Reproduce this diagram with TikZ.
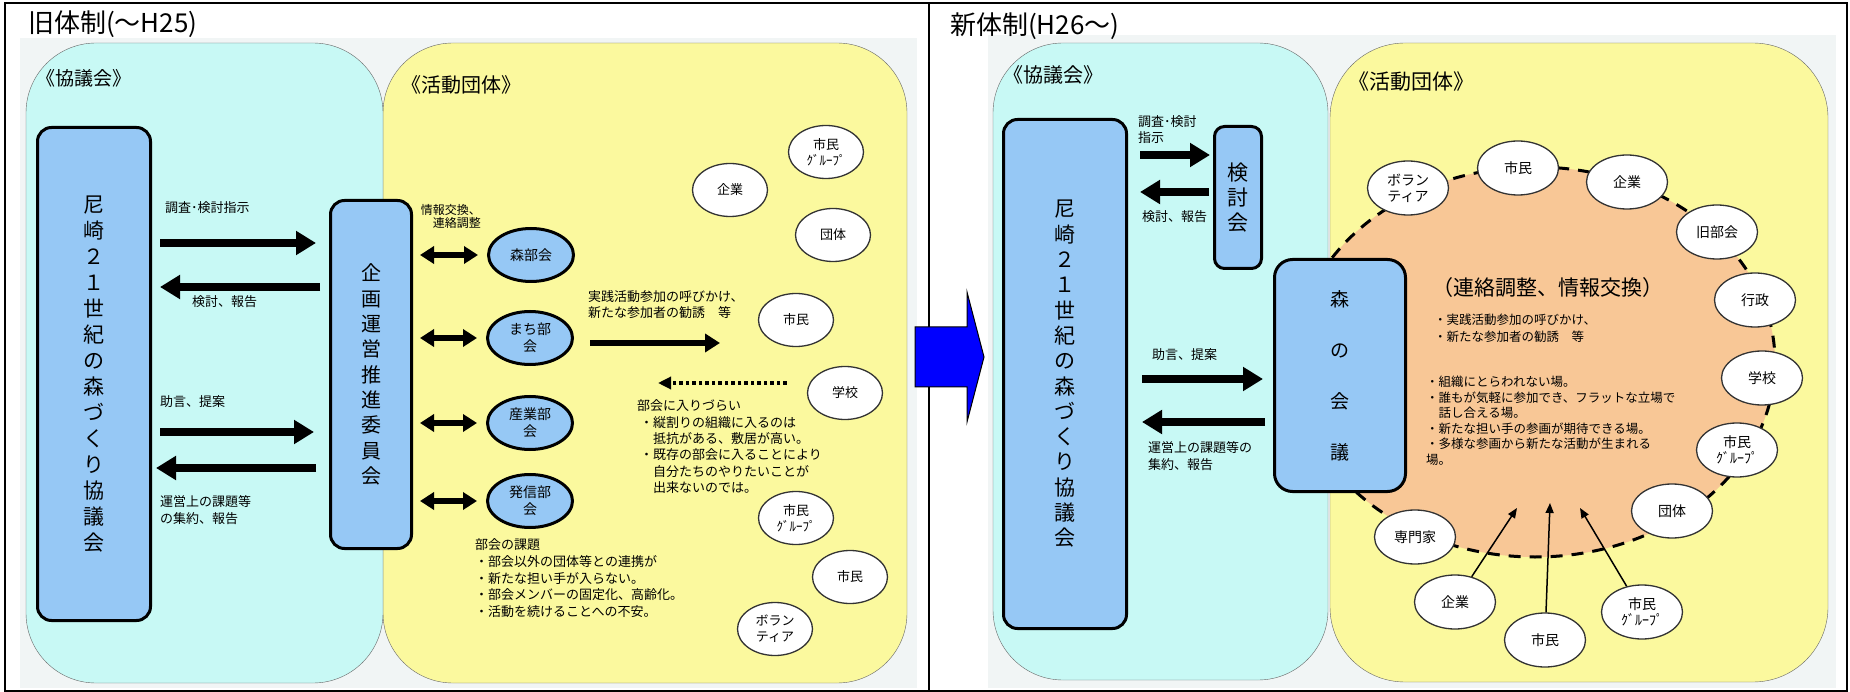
\documentclass[tikz,border=0pt]{standalone}
\usepackage{fontspec}
\setmainfont{Noto Sans CJK JP}
\usetikzlibrary{arrows.meta,shapes.geometric}
\definecolor{kyogiiro}{RGB}{200,249,245}
\definecolor{katsudoiro}{RGB}{251,249,158}
\definecolor{aoiro}{RGB}{150,200,245}
\definecolor{hirobairo}{RGB}{248,199,150}
\definecolor{haikeiiro}{RGB}{241,245,245}
\tikzset{
  aobako/.style={draw, line width=3pt, fill=aoiro, rounded corners=14pt, inner sep=0pt, align=center},
  aomaru/.style={ellipse, draw, line width=3pt, fill=aoiro, minimum width=85, minimum height=53, inner sep=0pt, align=center, font=\fontsize{14}{17}\selectfont},
  shiromaru/.style={ellipse, draw=black!80, line width=1.3pt, fill=white, minimum width=75, minimum height=53, inner sep=0pt, align=center, font=\fontsize{13}{16}\selectfont},
  shiromaruR/.style={shiromaru, minimum width=81, minimum height=54, font=\fontsize{14}{16}\selectfont},
  moji/.style={inner sep=0pt, align=left, font=\fontsize{13}{16.5}\selectfont},
  kakko/.style={anchor=west, inner sep=0pt},
  futoya/.style={line width=8pt, -{Triangle[length=20pt,width=23pt]}},
  ryoya/.style={line width=5.5pt, {Triangle[length=14pt,width=17pt]}-{Triangle[length=14pt,width=17pt]}},
  nakaya/.style={line width=6.5pt, -{Triangle[length=15pt,width=18pt]}},
  tenya/.style={line width=3.5pt, dash pattern=on 3.5pt off 3pt, -{Triangle[length=13pt,width=12pt]}},
  hosoya/.style={line width=1.5pt, -{Triangle[length=10pt,width=8pt]}}
}
\begin{document}
\begin{tikzpicture}[x=1pt,y=-1pt]
\useasboundingbox (0,0) rectangle (1850,692);
\fill[haikeiiro] (20,38) rectangle (917,688);
\fill[haikeiiro] (988,35) rectangle (1836,688);
\draw[line width=2pt] (5,3) rectangle (1847,691);
\draw[line width=2pt] (929,3) -- (929,691);
\node[anchor=base west, inner sep=0pt, font=\fontsize{26}{30}\selectfont] (midashiL) at (28,33) {旧体制(～H25)};
\node[anchor=base west, inner sep=0pt, font=\fontsize{26}{30}\selectfont] (midashiR) at (950,35) {新体制(H26～)};

\draw[black!60, fill=katsudoiro, rounded corners=70pt] (383,43) rectangle (907,683);
\draw[black!60, fill=kyogiiro, rounded corners=70pt] (26,43) rectangle (383,683);
\node[kakko, font=\fontsize{19}{20}\selectfont] (kyogiL) at (36,78) {《協議会》};
\node[kakko, font=\fontsize{20}{22}\selectfont] (katsudoL) at (401,85) {《活動団体》};

\node[aobako, minimum width=113, minimum height=493, font=\fontsize{21}{26}\selectfont] (kyoL) at (94,374) {尼\\崎\\２\\１\\世\\紀\\の\\森\\づ\\く\\り\\協\\議\\会};
\node[aobako, minimum width=81, minimum height=348, font=\fontsize{20}{25.3}\selectfont] (kikaku) at (371,374.5) {企\\画\\運\\営\\推\\進\\委\\員\\会};

\node[moji, anchor=west] (shijiL) at (165,208) {調査･検討指示};
\node[moji, anchor=west] (hokokuL) at (192,302) {検討、報告};
\node[moji, anchor=west] (teianL) at (160,402) {助言、提案};
\node[moji, anchor=north west] (shuyakuL) at (160,495.5) {運営上の課題等\\の集約、報告};
\draw[futoya, shorten <=8pt, shorten >=13pt] (kyoL.east |- 0,243) -- (kikaku.west |- 0,243);
\draw[futoya, shorten <=9pt, shorten >=8pt] (kikaku.west |- 0,287) -- (kyoL.east |- 0,287);
\draw[futoya, shorten <=8pt, shorten >=15pt] (kyoL.east |- 0,432) -- (kikaku.west |- 0,432);
\draw[futoya, shorten <=13pt, shorten >=4pt] (kikaku.west |- 0,468) -- (kyoL.east |- 0,468);

\node[aomaru] (moriB) at (531,255) {森部会};
\node[aomaru] (machiB) at (530,338) {まち部\\会};
\node[aomaru] (sangyoB) at (530,423) {産業部\\会};
\node[aomaru] (hasshinB) at (530,501) {発信部\\会};
\node[moji, anchor=north east, align=right, font=\fontsize{12}{13.3}\selectfont] (koukan) at (481,204) {情報交換、\\連絡調整};
\foreach \b in {moriB,machiB,sangyoB,hasshinB}
  \draw[ryoya, shorten <=7pt, shorten >=9pt] (kikaku.east |- \b) -- (\b.west);

\node[shiromaru] (kigyoL) at (730,190) {企業};
\node[shiromaru] (guruL1) at (826,152) {市民\\ｸﾞﾙｰﾌﾟ};
\node[shiromaru] (dantaiL) at (833,235) {団体};
\node[shiromaru] (shiminL1) at (796,320) {市民};
\node[shiromaru] (gakkoL) at (845,393) {学校};
\node[shiromaru] (guruL2) at (796,518) {市民\\ｸﾞﾙｰﾌﾟ};
\node[shiromaru] (shiminL2) at (850,577) {市民};
\node[shiromaru] (boraL) at (775,629) {ボラン\\ティア};

\node[moji, anchor=north west, font=\fontsize{13}{16}\selectfont] (yobikake) at (588,290.5) {実践活動参加の呼びかけ、\\新たな参加者の勧誘　等};
\coordinate (yobisaki) at (720,343);
\draw[nakaya, shorten <=16pt] (machiB.east |- yobisaki) -- (yobisaki);
\coordinate (hairisaki) at (658,383);
\draw[tenya, shorten <=20pt] (gakkoL.west |- hairisaki) -- (hairisaki);
\node[moji, anchor=north west, font=\fontsize{13}{16.4}\selectfont] (hairizurai) at (637,399.5) {部会に入りづらい\\\hspace*{3pt}・縦割りの組織に入るのは\\\hspace*{3pt}　抵抗がある、敷居が高い。\\\hspace*{3pt}・既存の部会に入ることにより\\\hspace*{3pt}　自分たちのやりたいことが\\\hspace*{3pt}　出来ないのでは。};
\node[moji, anchor=north west, font=\fontsize{13}{16.75}\selectfont] (kadai) at (475,538.5) {部会の課題\\・部会以外の団体等との連携が\\・新たな担い手が入らない。\\・部会メンバーの固定化、高齢化。\\・活動を続けることへの不安。};

\draw[fill=blue, line width=1pt] (915,327) -- (967,327) -- (967,292) -- (984,357) -- (967,422) -- (967,387) -- (915,387) -- cycle;

\draw[black!60, fill=katsudoiro, rounded corners=75pt] (1330,43) rectangle (1828,682);
\draw[black!60, fill=kyogiiro, rounded corners=70pt] (993,43) rectangle (1328,680);
\draw[line width=3pt, dash pattern=on 12pt off 9pt, fill=hirobairo] (1535,362) ellipse [x radius=240, y radius=195];
\node[kakko, font=\fontsize{20}{22}\selectfont] (kyogiR) at (1003,75) {《協議会》};
\node[kakko, font=\fontsize{21}{22}\selectfont] (katsudoR) at (1348,82) {《活動団体》};

\node[aobako, minimum width=123, minimum height=509, font=\fontsize{21}{25.3}\selectfont] (kyoR) at (1065,374) {尼\\崎\\２\\１\\世\\紀\\の\\森\\づ\\く\\り\\協\\議\\会};
\node[aobako, minimum width=47, minimum height=142, rounded corners=10pt, font=\fontsize{21}{25}\selectfont] (kento) at (1238,197.5) {検\\討\\会};
\node[aobako, minimum width=131, minimum height=232, rounded corners=18pt, font=\fontsize{19}{51}\selectfont] (morikaigi) at (1340,375.5) {森\\の\\会\\議};

\node[moji, anchor=north west, font=\fontsize{13}{16}\selectfont] (shijiR) at (1138,115.5) {調査･検討\\指示};
\node[moji, anchor=west] (hokokuR) at (1142,217) {検討、報告};
\node[moji, anchor=west] (teianR) at (1152,355) {助言、提案};
\node[moji, anchor=north west, font=\fontsize{13}{17}\selectfont] (shuyakuR) at (1148,441.5) {運営上の課題等の\\集約、報告};
\draw[futoya, shorten <=12pt, shorten >=3pt] (kyoR.east |- 0,155) -- (kento.west |- 0,155);
\draw[futoya, shorten <=4pt, shorten >=12pt] (kento.west |- 0,192) -- (kyoR.east |- 0,192);
\draw[futoya, shorten <=14pt, shorten >=10pt] (kyoR.east |- 0,379) -- (morikaigi.west |- 0,379);
\draw[futoya, shorten <=8pt, shorten >=14pt] (morikaigi.west |- 0,422) -- (kyoR.east |- 0,422);

\node[kakko, font=\fontsize{21}{24}\selectfont] (renraku) at (1432,288) {（連絡調整、情報交換）};
\node[moji, anchor=north west, font=\fontsize{12.5}{17}\selectfont] (yobikakeR) at (1434,313.7) {・実践活動参加の呼びかけ、\\・新たな参加者の勧誘　等};
\node[moji, anchor=north west, font=\fontsize{12.5}{15.6}\selectfont] (ba) at (1426,375.7) {・組織にとらわれない場。\\・誰もが気軽に参加でき、フラットな立場で\\　話し合える場。\\・新たな担い手の参画が期待できる場。\\・多様な参画から新たな活動が生まれる\\場。};

\node[shiromaruR] (boraR) at (1408,188) {ボラン\\ティア};
\node[shiromaruR] (shiminR1) at (1518,168) {市民};
\node[shiromaruR] (kigyoR1) at (1627,182) {企業};
\node[shiromaruR] (kyubukai) at (1717,232) {旧部会};
\node[shiromaruR] (gyosei) at (1755,300) {行政};
\node[shiromaruR] (gakkoR) at (1762,378) {学校};
\node[shiromaruR] (guruR1) at (1737,450) {市民\\ｸﾞﾙｰﾌﾟ};
\node[shiromaruR] (dantaiR) at (1672,511) {団体};
\node[shiromaruR] (senmonka) at (1415,537) {専門家};
\node[shiromaruR] (kigyoR2) at (1455,602) {企業};
\node[shiromaruR] (shiminR2) at (1545,640) {市民};
\node[shiromaruR] (guruR2) at (1642,612) {市民\\ｸﾞﾙｰﾌﾟ};
\coordinate (hirobaA) at (1517,508);
\coordinate (hirobaB) at (1550,503);
\coordinate (hirobaC) at (1580,508);
\draw[hosoya] (kigyoR2) -- (hirobaA);
\draw[hosoya] (shiminR2) -- (hirobaB);
\draw[hosoya] (guruR2) -- (hirobaC);
\end{tikzpicture}
\end{document}
